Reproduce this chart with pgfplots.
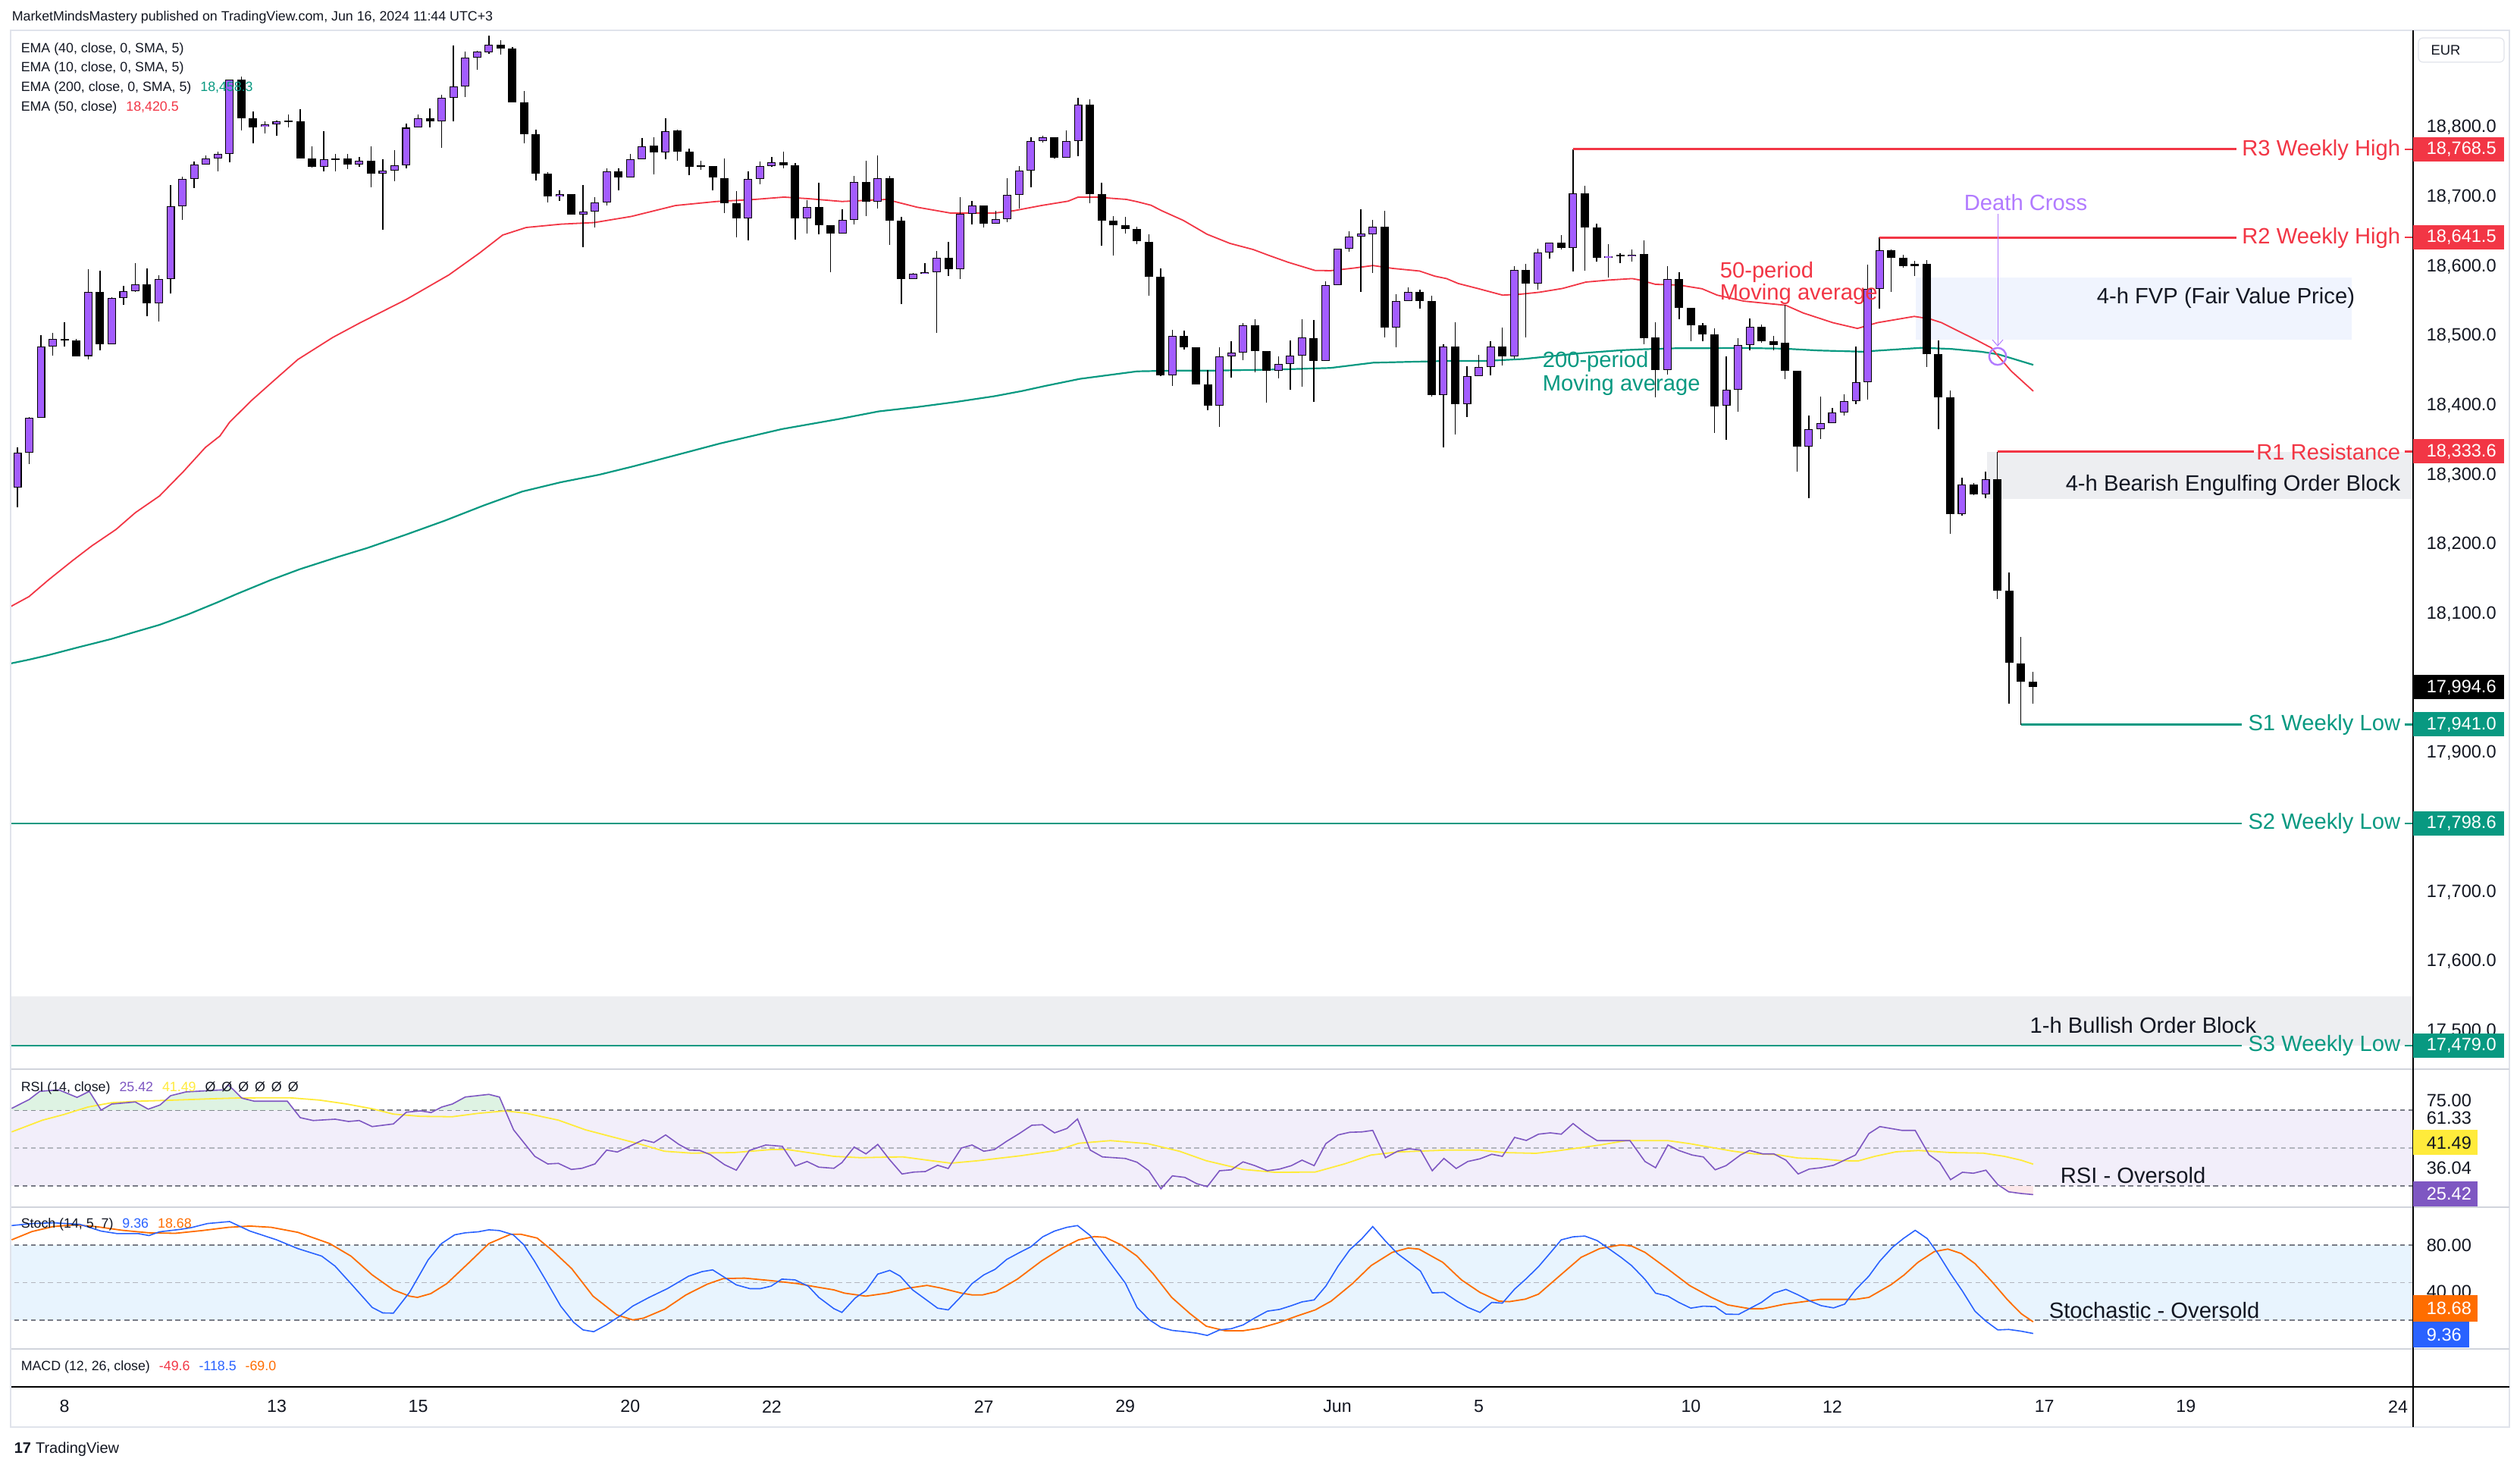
\documentclass[border=0pt]{standalone}
\usepackage{pgfplots}
\pgfplotsset{compat=1.18}
\usepackage{pgfplotstable}
\usepackage{fontspec}
\setmainfont{Liberation Sans}

\definecolor{tvred}{HTML}{F23645}
\definecolor{tvgreen}{HTML}{089981}
\definecolor{bull}{HTML}{A35DFF}
\definecolor{tvtext}{HTML}{131722}
\definecolor{rsiline}{HTML}{7E57C2}
\definecolor{rsima}{HTML}{FFEB3B}
\definecolor{kline}{HTML}{2962FF}
\definecolor{dline}{HTML}{FF6D00}
\definecolor{dcross}{HTML}{B27BFF}
\definecolor{rsiband}{HTML}{F2EEFA}
\definecolor{stband}{HTML}{E8F4FE}
\definecolor{obgray}{HTML}{EDEEF1}
\definecolor{fvp}{HTML}{F0F4FE}
\definecolor{dashgray}{HTML}{787B86}
\definecolor{midgray}{HTML}{B2B5BE}
\definecolor{frame}{HTML}{E0E3EB}
\definecolor{sepgray}{HTML}{D1D4DC}
\definecolor{obfill}{HTML}{DEF3E3}
\definecolor{osfill}{HTML}{FDE8EA}

\newcommand{\fl}{\fontsize{4.45}{5.4}\selectfont}
\newcommand{\fa}{\fontsize{7.3}{8.8}\selectfont}
\newcommand{\fp}{\fontsize{5.9}{7}\selectfont}
\newcommand{\fd}{\fontsize{5.8}{7}\selectfont}

% hourly DAX candles, bar index, open high low close
\pgfplotstableread{
i o h l c
0 18281.9 18339.4 18254.0 18332.0
1 18332.0 18383.0 18316.0 18382.2
2 18382.2 18501.0 18382.0 18484.5
3 18484.5 18504.0 18472.0 18496.0
4 18496.0 18519.5 18485.0 18494.0
5 18494.0 18496.0 18470.0 18471.0
6 18471.0 18596.4 18466.0 18563.3
7 18563.3 18593.5 18479.0 18488.0
8 18488.0 18556.0 18488.0 18554.5
9 18554.5 18572.0 18545.0 18564.3
10 18564.3 18605.0 18563.0 18574.0
11 18574.0 18597.0 18528.0 18547.3
12 18547.3 18587.7 18521.0 18581.3
13 18581.3 18717.0 18561.0 18686.0
14 18686.0 18729.0 18667.5 18725.5
15 18725.5 18751.0 18713.0 18746.0
16 18746.0 18759.5 18746.0 18755.6
17 18755.6 18765.0 18737.0 18761.5
18 18761.5 18868.6 18749.3 18868.6
19 18868.6 18873.5 18796.0 18812.6
20 18812.6 18822.8 18776.6 18800.4
21 18800.9 18808.2 18790.7 18804.3
22 18804.3 18810.0 18788.3 18808.2
23 18808.7 18819.0 18799.5 18808.7
24 18809.2 18826.2 18754.7 18754.7
25 18754.7 18772.7 18742.5 18743.5
26 18743.5 18794.6 18736.2 18753.7
27 18754.7 18761.5 18737.0 18754.7
28 18754.7 18761.5 18740.0 18746.0
29 18746.0 18757.0 18743.0 18751.7
30 18751.7 18772.7 18714.0 18733.7
31 18733.7 18753.7 18652.9 18737.6
32 18737.6 18767.8 18723.0 18745.0
33 18745.0 18805.3 18740.5 18799.5
34 18799.5 18819.0 18799.5 18812.6
35 18812.6 18827.7 18799.5 18808.2
36 18808.2 18847.2 18770.0 18842.3
37 18842.3 18917.8 18809.2 18858.9
38 18858.9 18909.0 18843.3 18900.7
39 18900.7 18910.5 18883.2 18908.5
40 18908.5 18932.4 18905.6 18919.2
41 18919.2 18925.0 18905.0 18913.9
42 18913.9 18915.3 18836.5 18836.5
43 18836.5 18852.0 18776.6 18790.7
44 18790.7 18797.0 18724.0 18733.7
45 18733.7 18736.0 18691.4 18701.0
46 18701.0 18709.9 18693.8 18703.5
47 18703.5 18703.5 18674.8 18674.8
48 18674.8 18716.7 18627.6 18678.7
49 18678.7 18699.2 18656.3 18692.4
50 18692.4 18741.0 18687.5 18736.2
51 18736.2 18741.0 18709.4 18728.4
52 18728.4 18761.5 18728.4 18753.7
53 18753.7 18784.9 18753.7 18773.2
54 18773.7 18786.3 18732.8 18764.4
55 18764.4 18813.1 18754.2 18795.1
56 18795.1 18797.0 18752.2 18765.4
57 18765.4 18769.3 18730.8 18743.5
58 18744.0 18751.7 18739.1 18744.0
59 18744.0 18744.0 18709.9 18727.4
60 18727.4 18755.2 18676.3 18690.4
61 18690.4 18708.4 18642.2 18669.0
62 18669.0 18736.2 18637.3 18725.5
63 18725.5 18750.8 18718.0 18744.0
64 18744.0 18757.6 18743.0 18750.3
65 18750.3 18765.0 18740.5 18745.4
66 18745.4 18748.3 18638.8 18669.0
67 18669.0 18695.8 18647.6 18685.0
68 18685.0 18720.0 18646.6 18659.2
69 18659.2 18659.2 18592.0 18647.1
70 18647.1 18682.1 18647.1 18666.5
71 18666.5 18730.3 18660.7 18721.0
72 18721.0 18751.7 18672.9 18693.3
73 18693.3 18759.5 18683.6 18727.4
74 18727.4 18729.8 18630.5 18666.0
75 18666.0 18671.0 18545.3 18582.3
76 18582.3 18591.0 18581.3 18589.6
77 18589.6 18605.2 18589.6 18592.0
78 18592.0 18622.7 18504.9 18612.0
79 18612.0 18634.9 18586.2 18596.4
80 18596.4 18700.1 18582.3 18675.3
81 18675.3 18693.8 18660.2 18688.0
82 18688.0 18688.0 18656.3 18661.7
83 18661.7 18679.7 18661.7 18668.5
84 18668.5 18726.4 18663.6 18702.6
85 18702.6 18744.0 18683.1 18738.1
86 18738.1 18786.3 18713.8 18780.0
87 18780.0 18787.8 18777.6 18785.3
88 18785.3 18785.3 18755.6 18756.6
89 18756.6 18795.6 18756.6 18780.0
90 18780.0 18842.3 18759.0 18833.1
91 18833.1 18839.9 18690.4 18703.5
92 18703.5 18720.0 18630.0 18665.6
93 18665.6 18671.9 18616.0 18659.7
94 18659.7 18671.4 18647.6 18654.4
95 18654.4 18657.0 18632.0 18635.9
96 18635.0 18645.9 18557.8 18585.4
97 18585.4 18596.6 18441.8 18443.0
98 18443.0 18508.6 18428.0 18500.6
99 18500.6 18508.1 18480.6 18483.9
100 18483.9 18483.9 18430.5 18430.5
101 18430.5 18451.4 18393.0 18400.0
102 18400.0 18483.5 18369.6 18471.0
103 18471.0 18492.3 18440.5 18475.6
104 18475.6 18519.0 18465.6 18514.8
105 18514.8 18524.0 18448.0 18478.5
106 18478.5 18478.5 18404.2 18450.1
107 18450.1 18471.0 18438.8 18459.3
108 18459.3 18494.0 18423.0 18471.4
109 18471.4 18524.0 18427.2 18497.3
110 18497.3 18522.7 18405.5 18464.3
111 18464.3 18578.3 18464.3 18573.2
112 18573.2 18625.0 18573.2 18625.0
113 18625.0 18650.5 18621.2 18642.5
114 18642.5 18681.8 18563.6 18646.7
115 18646.7 18667.2 18590.8 18656.7
116 18656.7 18679.7 18498.1 18512.3
117 18512.3 18559.9 18483.9 18549.9
118 18549.9 18570.3 18549.9 18563.6
119 18563.6 18567.0 18539.0 18550.3
120 18550.3 18557.8 18412.6 18414.6
121 18414.6 18487.7 18339.1 18484.3
122 18484.3 18519.8 18358.3 18402.1
123 18402.1 18456.8 18383.8 18441.8
124 18441.8 18472.7 18441.8 18455.1
125 18455.1 18491.9 18443.0 18484.8
126 18484.8 18511.9 18458.0 18471.0
127 18471.0 18600.4 18467.6 18594.5
128 18594.5 18603.7 18498.1 18575.8
129 18575.8 18625.4 18566.6 18620.4
130 18620.4 18633.8 18610.8 18633.8
131 18633.8 18645.0 18624.6 18626.7
132 18626.7 18768.5 18592.9 18704.7
133 18704.7 18716.0 18594.1 18656.3
134 18656.3 18660.9 18606.6 18612.5
135 18612.5 18631.7 18583.7 18615.0
136 18615.8 18619.2 18604.6 18615.8
137 18614.2 18624.2 18606.6 18617.1
138 18617.5 18637.1 18488.5 18497.3
139 18497.3 18519.8 18411.3 18451.4
140 18451.4 18600.4 18444.7 18582.4
141 18582.4 18591.2 18524.4 18540.7
142 18540.7 18540.7 18491.9 18515.6
143 18515.6 18519.0 18491.9 18502.3
144 18502.3 18510.6 18360.4 18399.2
145 18399.2 18471.0 18350.8 18422.2
146 18422.2 18496.9 18390.4 18486.4
147 18486.7 18524.6 18479.0 18513.5
148 18513.5 18516.2 18490.0 18492.9
149 18492.3 18499.5 18479.0 18487.3
150 18490.1 18545.2 18438.3 18449.5
151 18449.5 18449.5 18304.8 18341.0
152 18341.0 18385.5 18267.0 18366.0
153 18366.0 18413.3 18352.1 18374.4
154 18374.4 18396.6 18374.4 18389.4
155 18389.4 18416.1 18385.5 18406.6
156 18406.6 18484.5 18402.2 18433.9
157 18433.9 18602.5 18408.8 18567.4
158 18567.4 18641.5 18539.1 18623.6
159 18623.6 18624.7 18563.5 18612.5
160 18612.5 18616.4 18598.0 18600.8
161 18603.6 18608.0 18585.8 18600.8
162 18603.6 18609.2 18455.0 18473.4
163 18473.4 18494.0 18366.0 18411.6
164 18411.6 18421.6 18215.8 18243.6
165 18243.6 18296.5 18242.0 18286.4
166 18286.4 18288.0 18271.4 18272.5
167 18272.5 18304.8 18267.0 18293.7
168 18293.7 18333.6 18121.2 18134.0
169 18134.0 18160.0 17971.0 18029.4
170 18029.4 18067.2 17941.0 18002.6
171 18002.6 18016.5 17971.0 17994.6
}\candles

\pgfplotsset{
  panel/.style={scale only axis, width=792pt, anchor=south west,
    xmin=-0.5146, xmax=203.28, hide axis, clip=true},
  dash70/.style={dashgray, line width=0.3pt, dash pattern=on 1.6pt off 1.2pt},
  dash50/.style={midgray, line width=0.3pt, dash pattern=on 1.6pt off 1.2pt},
  bars only/.style={only marks, mark=*, mark size=0pt, mark options={draw=none, fill=none}},
}

\begin{document}
\begin{tikzpicture}
\useasboundingbox (0,0) rectangle (831pt,-484pt);
\fill[white] (0,0) rectangle (831pt,-484pt);

% ---------------- price panel ----------------
\begin{axis}[panel, at={(3.75pt,-352.5pt)}, height=342.5pt,
  ymin=17445.3, ymax=18939.5]
\fill[fvp] (axis cs:161.08,18494) rectangle (axis cs:198.07,18584);
\fill[obgray] (axis cs:167.13,18265) rectangle (axis cs:204,18333.6);
\fill[obgray] (axis cs:-1,17479) rectangle (axis cs:204,17549.6);

% EMA 200
\addplot[tvgreen, line width=0.55pt] coordinates {
(-0.58,18028.8) (0.98,18034.3) (2.62,18040.8) (5.08,18051.7) (7.96,18064) (10.01,18074.3)
(12.06,18084.4) (14.52,18099.7) (16.98,18116.8) (18.62,18128.8) (21.49,18148.8) (23.96,18164.4)
(27.24,18182.3) (29.7,18195) (32.98,18214.2) (36.26,18234.2) (39.55,18256) (42.83,18276.1)
(46.11,18289.5) (49.39,18300.4) (52.27,18312.4) (56.78,18332.5) (59.63,18345.3) (64.88,18366)
(68.17,18375.8) (69.8,18380.7) (73.08,18391.4) (76.36,18397.7) (79.64,18405) (82.92,18413.3)
(85.24,18420.7) (87.21,18428) (90.16,18438.2) (92.76,18444) (95.01,18449) (98.3,18450.1)
(101.58,18450.1) (104.86,18451) (108.14,18452.2) (111.42,18453.9) (115.02,18461.4) (117.98,18462.6)
(121.26,18463.9) (124.54,18463.9) (127.82,18466.8) (129.48,18469.7) (132.76,18475.2) (136.04,18479.3)
(137.67,18480.6) (140.95,18482.3) (142.94,18482.3) (146.48,18482.5) (149.84,18481.7) (152.8,18479)
(156.5,18477.3) (159.05,18480.1) (161.6,18482.9) (164.1,18481.2) (166.6,18477.3) (168.1,18473.4)
(169.2,18467.8) (171.05,18458.3)};

% EMA 50
\addplot[tvred, line width=0.45pt] coordinates {
(-0.58,18110.6) (0.98,18125) (2.62,18148.8) (4.68,18176.8) (6.30,18197.8) (8.36,18221.5)
(10.01,18245.8) (12.06,18269.8) (14.09,18305) (15.95,18339.6) (17.18,18356) (18.01,18376)
(19.85,18406.9) (21.9,18437.8) (23.80,18466.1) (26.76,18497.8) (29.04,18518.5) (32.98,18552.3)
(36.60,18587.6) (39.22,18619.3) (41.17,18645) (43.17,18655.9) (46.12,18660.7) (48.95,18663)
(52.09,18671.8) (55.84,18687.5) (59.31,18693.3) (62.59,18696.3) (65.04,18699.6) (67.16,18697.3)
(69.97,18693.3) (73.72,18696.3) (76.36,18685) (79.16,18676.7) (82.92,18676.7) (84.58,18680.1)
(86.88,18687.5) (89.16,18693.8) (90.0,18699.6) (91.48,18699.6) (94.10,18696.3) (95.01,18693)
(96.17,18688) (97.14,18679.7) (98.94,18666) (100.93,18646.3) (102.89,18633) (104.86,18624.2)
(106.18,18615.8) (107.82,18605.9) (110.11,18594.1) (111.42,18593.8) (113.39,18597.5) (115.02,18601.2)
(116.67,18597.1) (118.97,18593.3) (120.29,18585.8) (121.26,18582.4) (122.26,18575.3) (123.9,18568.2)
(126.02,18558.6) (127.5,18559.9) (129.15,18562.8) (131.1,18568.2) (133.09,18577.4) (135.05,18580.3)
(137.02,18582.4) (137.67,18580.3) (139.0,18574.1) (140.95,18573.2) (142.94,18567.8) (144.23,18558.6)
(146.48,18550) (150.05,18544) (151.52,18533) (154.04,18519) (156.13,18510.7) (157.83,18519)
(160.95,18528) (162.24,18524.6) (163.27,18519) (164.56,18508) (166.23,18494) (167.49,18482.8)
(168.03,18471.7) (169.17,18449.5) (171.05,18420.5)};

% wicks
\addplot[bars only, error bars/.cd, y dir=both, y explicit, error mark=none,
  error bar style={line width=0.35pt, draw=black}]
  table[x=i, y expr={(\thisrow{h}+\thisrow{l})/2}, y error expr={(\thisrow{h}-\thisrow{l})/2}] {\candles};
% bodies
\addplot[bars only, error bars/.cd, y dir=both, y explicit, error mark=none,
  error bar style={line width=2.75pt, draw=black}]
  table[x=i, y expr={(\thisrow{o}+\thisrow{c})/2}, y error expr={max(abs(\thisrow{c}-\thisrow{o})/2,1.1)}] {\candles};
\addplot[bars only, restrict expr to domain={\thisrow{c}-\thisrow{o}}{0.001:100000},
  error bars/.cd, y dir=both, y explicit, error mark=none,
  error bar style={line width=2.2pt, draw=bull}]
  table[x=i, y expr={(\thisrow{o}+\thisrow{c})/2}, y error expr={max(abs(\thisrow{c}-\thisrow{o})/2-1.1,0.3)}] {\candles};

% weekly levels
\addplot[tvred, line width=0.75pt] coordinates {(132,18768.5) (188.29,18768.5)};
\addplot[tvred, line width=0.75pt] coordinates {(158,18641.5) (188.29,18641.5)};
\addplot[tvred, line width=0.75pt] coordinates {(168,18333.6) (189.77,18333.6)};
\addplot[tvgreen, line width=0.6pt] coordinates {(170,17941) (188.74,17941)};
\addplot[tvgreen, line width=0.6pt] coordinates {(-1,17798.6) (188.74,17798.6)};
\addplot[tvgreen, line width=0.6pt] coordinates {(-1,17479) (188.74,17479)};
\addplot[tvred, line width=0.6pt] coordinates {(202.6,18768.5) (204,18768.5)};
\addplot[tvred, line width=0.6pt] coordinates {(202.6,18641.5) (204,18641.5)};
\addplot[tvred, line width=0.6pt] coordinates {(202.6,18333.6) (204,18333.6)};
\addplot[tvgreen, line width=0.6pt] coordinates {(202.6,17941) (204,17941)};
\addplot[tvgreen, line width=0.6pt] coordinates {(202.6,17798.6) (204,17798.6)};
\addplot[tvgreen, line width=0.6pt] coordinates {(202.6,17479) (204,17479)};

% death cross
\addplot[only marks, mark=o, mark size=2.8pt, mark options={dcross, line width=0.6pt}]
  coordinates {(168.03,18470.5)};
\end{axis}

% ---------------- RSI panel ----------------
\begin{axis}[panel, at={(3.75pt,-398pt)}, height=45.5pt, ymin=18.8, ymax=91.6]
\fill[rsiband] (axis cs:-1,30) rectangle (axis cs:204,70);
\addplot[dash70] coordinates {(-1,70) (204,70)};
\addplot[dash50] coordinates {(-1,50) (204,50)};
\addplot[dash70] coordinates {(-1,30) (204,30)};
% overbought / oversold areas
\addplot[fill=obfill, draw=none] coordinates {(-0.49,70) (-0.49,70.9) (1.0,75.6) (1.9,79.9) (3.5,80.7)
 (5.06,76.7) (6.1,79.9) (7.1,70.0) (8.0,73.2) (10.0,74.3) (11.1,70.5) (12.1,72.7) (13.0,77.6) (14.3,79.6)
 (17.5,80.7) (17.9,83.3) (19.05,76.3) (20.1,74.7) (22.9,74.7) (23.49,70)} -- cycle;
\addplot[fill=obfill, draw=none] coordinates {(35.5,70) (36.0,71.6) (36.9,73.2) (38.0,76.9) (40.0,78.3)
 (40.9,76.9) (41.38,70)} -- cycle;
\addplot[fill=osfill, draw=none] coordinates {(168.21,30) (168.96,26.9) (170.02,26.0) (171.04,25.42)
 (171.04,30)} -- cycle;
\addplot[rsima, line width=0.45pt] coordinates {
(-0.49,58.5) (2.13,64.7) (3.9,67.6) (5.97,71.6) (8.0,73.9) (10.25,74.7) (12.96,75.2) (16.57,76.0)
(18.8,76.4) (21.08,76.5) (23.1,76.5) (25.6,75.3) (27.85,73.3) (30.1,70.7) (31.9,67.9) (34.2,66.7)
(36.9,66.5) (39.1,68.3) (41.4,69.6) (43.2,68.3) (45.9,64.7) (48.2,59.6) (50.4,56.0) (52.7,52.3)
(54.9,48.3) (57.2,47.3) (60.8,47.6) (64.0,49.2) (65.3,49.2) (67.1,47.6) (69.28,45.6) (71.54,44.9)
(73.8,45.2) (75.15,45.3) (77.2,43.6) (79.2,42.0) (81.5,43.3) (85.1,45.9) (88.2,48.7) (90.04,52.5)
(92.75,53.9) (95.9,52.3) (98.6,48.3) (100.87,43.3) (104.0,38.7) (106.7,37.2) (110.1,37.3) (112.6,41.6)
(114.86,46.3) (117.1,47.9) (121.2,48.9) (124.1,48.9) (126.1,47.6) (128.85,47.2) (130.65,48.5) (134.3,51.6)
(136.5,53.9) (140.05,53.9) (141.9,52.3) (143.74,50.3) (145.6,48.3) (147.4,46.9) (149.3,46.5) (151.1,44.7)
(152.96,44.3) (154.8,43.3) (156.2,43.2) (157.6,45.6) (159.4,48.0) (161.3,48.7) (164.0,47.6) (166.8,47.3)
(168.6,45.6) (170.0,43.6) (171.04,41.49)};
\addplot[rsiline, line width=0.4pt] coordinates {
(-0.49,70.9) (1.0,75.6) (1.9,79.9) (3.5,80.7) (5.06,76.7) (6.1,79.9) (7.1,70.0) (8.0,73.2)
(10.0,74.3) (11.1,70.5) (12.1,72.7) (13.0,77.6) (14.3,79.6) (17.5,80.7) (17.9,83.3) (19.05,76.3)
(20.1,74.7) (22.9,74.7) (24.0,66.0) (25.1,64.5) (26.95,65.2) (28.1,64.0) (29.0,64.5) (30.1,61.3)
(31.9,62.7) (33.0,68.9) (34.2,69.6) (35.1,68.7) (36.0,71.6) (36.9,73.2) (38.0,76.9) (40.0,78.3)
(40.9,76.9) (42.1,59.6) (43.9,45.6) (45.0,41.6) (45.9,41.9) (47.0,38.7) (47.9,39.3) (49.0,41.6)
(50.0,48.9) (50.9,47.9) (53.1,54.3) (54.0,52.9) (55.0,56.9) (56.1,52.0) (57.0,48.9) (57.9,48.7)
(58.8,46.5) (60.0,41.2) (61.0,38.3) (62.1,48.7) (63.5,51.6) (64.9,50.9) (66.0,40.5) (67.0,42.9)
(68.0,39.9) (69.28,39.3) (69.96,42.3) (71.0,50.5) (72.0,46.9) (73.0,51.9) (74.0,43.9) (75.06,36.3)
(76.05,37.3) (77.04,37.6) (78.08,40.9) (78.98,39.2) (80.1,50.0) (81.0,51.6) (82.0,48.3) (82.9,49.2)
(83.95,53.6) (85.0,57.6) (86.07,62.0) (86.97,62.3) (88.0,58.0) (89.05,60.3) (89.95,65.3) (91.03,48.9)
(92.07,45.3) (94.0,44.5) (95.0,42.5) (96.0,38.0) (97.03,28.5) (98.0,35.3) (99.06,34.5) (100.06,31.2)
(100.96,29.6) (102.0,38.0) (103.0,38.5) (104.0,42.7) (105.0,40.7) (106.06,38.0) (107.1,38.9) (108.1,40.7)
(109.0,43.6) (110.03,40.7) (111.02,52.3) (112.06,56.9) (113.05,58.3) (114.09,58.5) (115.0,59.3) (116.08,44.9)
(117.1,48.3) (118.1,49.6) (119.05,48.9) (120.05,38.0) (121.04,44.5) (122.08,39.2) (123.07,42.9) (124.1,44.3)
(125.1,46.7) (126.0,45.6) (127.04,55.6) (128.03,54.0) (129.07,57.3) (130.07,58.0) (131.0,57.3) (132.0,62.9)
(133.0,58.0) (134.04,53.9) (136.83,53.9) (138.1,42.9) (139.0,39.6) (140.05,51.6) (140.97,48.7) (142.1,46.3)
(143.05,45.3) (144.06,38.5) (144.98,40.7) (146.2,46.3) (146.97,48.7) (148.1,46.9) (149.04,46.9) (150.06,43.6)
(151.1,36.3) (152.04,38.9) (153.05,39.6) (154.1,40.9) (155.96,46.3) (157.1,57.6) (158.03,61.3) (159.9,59.3)
(161.03,59.3) (162.2,46.5) (163.1,42.5) (164.03,33.3) (165.04,37.2) (165.97,36.7) (167.03,38.3) (168.04,30.7)
(168.96,26.9) (170.02,26.0) (171.04,25.42)};
\end{axis}

% ---------------- Stochastic panel ----------------
\begin{axis}[panel, at={(3.75pt,-444.75pt)}, height=46.75pt, ymin=-3.0, ymax=110.3]
\fill[stband] (axis cs:-1,20) rectangle (axis cs:204,80);
\addplot[dash70] coordinates {(-1,80) (204,80)};
\addplot[dash50] coordinates {(-1,50) (204,50)};
\addplot[dash70] coordinates {(-1,20) (204,20)};
\addplot[dline, line width=0.45pt] coordinates {
(-0.49,84.2) (1.23,90.8) (3.03,94.8) (4.84,96.2) (6.64,94.8) (8.9,91.8) (11.16,89.8) (13.4,89.4)
(15.67,91.6) (17.92,94.2) (19.73,95.2) (21.53,94.2) (23.79,90.2) (26.5,81.2) (28.3,71.2) (30.1,56.2)
(31.9,44.2) (33.27,39.2) (33.94,38.2) (35.07,41.2) (36.43,49.2) (38.23,65.2) (40.0,81.2) (41.84,88.6)
(42.74,88.6) (44.1,85.6) (45.45,75.2) (47.03,61.2) (48.84,39.2) (50.87,24.2) (52.22,20.2) (53.12,21.6)
(54.93,28.8) (56.73,40.2) (58.54,48.8) (59.89,53.2) (61.7,53.6) (63.95,51.6) (66.2,49.2) (68.0,46.2)
(69.28,44.2) (70.18,41.6) (71.99,39.2) (73.79,41.6) (75.6,45.6) (77.18,47.8) (78.3,45.8) (80.1,41.6)
(81.0,40.2) (81.9,40.2) (83.04,42.8) (84.85,52.8) (86.88,67.2) (88.68,77.8) (90.04,84.2) (91.39,86.8)
(92.3,86.2) (93.65,80.2) (95.0,71.2) (96.36,57.2) (97.94,38.2) (99.5,25.2) (100.87,15.2) (102.45,11.6)
(104.03,11.6) (105.4,13.6) (106.96,17.8) (108.54,23.2) (110.12,28.2) (111.47,35.2) (113.28,49.2) (114.86,63.6)
(116.66,74.2) (118.0,77.6) (118.92,76.8) (120.95,66.2) (122.53,52.2) (124.1,42.2) (125.7,35.2) (126.59,34.8)
(127.95,36.8) (129.07,40.8) (130.88,55.6) (132.68,70.2) (134.26,77.2) (136.07,80.2) (136.97,79.2) (138.1,74.2)
(140.05,60.8) (141.9,47.6) (143.74,38.2) (145.12,32.2) (146.97,29.2) (148.12,29.2) (149.96,32.8) (151.58,34.8)
(152.96,36.6) (155.96,36.6) (157.1,38.2) (158.96,48.2) (160.1,56.2) (161.26,66.2) (162.65,74.8) (163.8,76.8)
(164.95,73.2) (166.1,65.2) (167.5,51.2) (168.87,36.2) (170.02,25.2) (171.04,18.68)};
\addplot[kline, line width=0.4pt] coordinates {
(-0.49,95.6) (1.23,97.2) (3.03,97.8) (5.29,96.6) (7.09,91.2) (8.45,89.2) (10.25,89.2) (11.16,87.6)
(12.06,90.6) (13.86,92.6) (14.77,94.0) (16.12,97.2) (18.0,98.8) (19.73,91.2) (21.99,84.2) (23.79,77.2)
(25.82,71.2) (26.95,63.2) (28.3,49.2) (30.1,30.2) (31.0,25.8) (31.9,25.6) (33.27,42.2) (34.85,68.2)
(35.98,81.2) (37.1,88.2) (38.0,89.8) (39.1,90.6) (40.0,92.2) (40.9,91.6) (42.07,88.2) (42.97,80.2)
(43.87,67.2) (45.0,49.2) (46.1,31.2) (47.2,18.2) (48.0,12.2) (48.9,10.8) (49.96,16.2) (51.1,23.2)
(52.2,31.2) (53.6,38.2) (55.15,45.2) (56.96,55.2) (58.1,58.8) (58.99,60.2) (60.1,53.6) (61.0,48.2)
(62.15,45.2) (63.05,45.2) (63.95,47.2) (64.86,52.8) (65.98,52.2) (67.1,47.2) (68.0,38.2) (69.28,29.2)
(69.96,26.2) (71.1,37.8) (72.0,43.6) (73.0,56.8) (74.02,59.8) (74.9,55.2) (75.96,44.2) (77.04,36.8)
(78.08,29.6) (78.98,28.2) (80.1,39.2) (81.0,49.2) (82.0,56.2) (82.95,60.6) (83.95,68.6) (84.98,73.8)
(85.98,78.6) (87.0,86.6) (88.0,91.2) (89.05,94.2) (89.95,95.6) (91.03,87.6) (92.07,74.2) (92.97,62.8)
(94.01,49.6) (95.0,30.2) (96.0,20.6) (97.03,14.2) (98.0,11.8) (99.06,10.8) (100.06,9.6) (100.96,7.8)
(102.0,12.2) (103.0,13.2) (104.0,16.2) (105.0,21.8) (106.06,27.2) (107.1,28.6) (108.1,31.6) (109.0,34.6)
(110.03,36.2) (111.02,47.2) (112.06,63.2) (113.05,76.2) (114.09,85.2) (115.0,94.8) (116.08,83.2) (117.1,73.2)
(118.1,66.2) (119.05,59.2) (120.05,41.8) (121.04,42.2) (122.08,35.6) (123.07,30.2) (124.1,26.2) (125.1,34.2)
(126.0,33.6) (127.04,44.8) (128.03,53.2) (129.07,62.8) (130.07,73.8) (131.0,84.2) (132.0,86.6) (133.0,87.2)
(134.04,83.6) (135.08,76.8) (136.07,70.2) (136.97,63.6) (138.1,52.6) (139.0,41.6) (140.05,39.2) (140.97,34.2)
(141.99,29.6) (143.05,31.2) (144.06,30.8) (144.98,24.8) (146.04,24.6) (146.97,29.2) (147.98,34.2) (149.04,41.6)
(150.06,44.6) (151.1,40.2) (152.13,35.2) (153.05,31.6) (154.1,29.8) (155.04,32.8) (155.96,44.2) (157.1,55.2)
(158.03,67.2) (159.1,78.2) (160.02,85.2) (161.03,91.8) (162.05,85.2) (162.97,73.2) (164.03,57.2) (165.04,43.2)
(166.1,27.2) (167.03,19.2) (168.04,12.2) (168.96,12.6) (170.02,11.2) (171.04,9.36)};
\end{axis}

% ---------------- frame, scales and notes (1 unit = 1 screenshot pixel) ----------------
\begin{scope}[x=0.25pt, y=-0.25pt]
\draw[frame, line width=0.4pt] (14,40) rectangle (3310,1882);
\draw[sepgray, line width=0.45pt] (15,1410) -- (3310,1410);
\draw[sepgray, line width=0.45pt] (15,1592) -- (3310,1592);
\draw[sepgray, line width=0.45pt] (15,1779) -- (3310,1779);
\draw[black, line width=0.5pt] (15,1829) -- (3310,1829);
\draw[black, line width=0.35pt] (3183,40) -- (3183,1882);

% header and legends
\node[anchor=west, inner sep=0, text=tvtext, font=\fl] at (15,23) {MarketMindsMastery published on TradingView.com, Jun 16, 2024 11:44 UTC+3};
\node[anchor=west, inner sep=0, text=tvtext, font=\fl] at (27,65) {EMA (40, close, 0, SMA, 5)};
\node[anchor=west, inner sep=0, text=tvtext, font=\fl] at (27,90) {EMA (10, close, 0, SMA, 5)};
\node[anchor=west, inner sep=0, text=tvtext, font=\fl] at (27,116) {EMA (200, close, 0, SMA, 5)\hspace{3pt}\textcolor{tvgreen}{18,458.3}};
\node[anchor=west, inner sep=0, text=tvtext, font=\fl] at (27,142) {EMA (50, close)\hspace{3pt}\textcolor{tvred}{18,420.5}};
\node[anchor=west, inner sep=0, text=tvtext, font=\fl] at (27,1435) {RSI (14, close)\hspace{3pt}\textcolor{rsiline}{25.42}\hspace{3pt}\textcolor{rsima}{41.49}\hspace{3pt}Ø\hspace{2pt}Ø\hspace{2pt}Ø\hspace{2pt}Ø\hspace{2pt}Ø\hspace{2pt}Ø};
\node[anchor=west, inner sep=0, text=tvtext, font=\fl] at (27,1615) {Stoch (14, 5, 7)\hspace{3pt}\textcolor{kline}{9.36}\hspace{3pt}\textcolor{dline}{18.68}};
\node[anchor=west, inner sep=0, text=tvtext, font=\fl] at (27,1803) {MACD (12, 26, close)\hspace{3pt}\textcolor{tvred}{-49.6}\hspace{3pt}\textcolor{kline}{-118.5}\hspace{3pt}\textcolor{dline}{-69.0}};

% annotations
\node[anchor=east, inner sep=0, text=tvred, font=\fa] at (3167,198) {R3 Weekly High};
\node[anchor=east, inner sep=0, text=tvred, font=\fa] at (3167,314) {R2 Weekly High};
\node[anchor=east, inner sep=0, text=tvred, font=\fa] at (3167,596) {R1 Resistance};
\node[anchor=east, inner sep=0, text=tvgreen, font=\fa] at (3167,956) {S1 Weekly Low};
\node[anchor=east, inner sep=0, text=tvgreen, font=\fa] at (3167,1086) {S2 Weekly Low};
\node[anchor=east, inner sep=0, text=tvgreen, font=\fa] at (3167,1379) {S3 Weekly Low};
\node[anchor=west, inner sep=0, text=tvtext, font=\fa] at (2765,393) {4-h FVP (Fair Value Price)};
\node[anchor=east, inner sep=0, text=tvtext, font=\fa] at (3167,640) {4-h Bearish Engulfing Order Block};
\node[anchor=east, inner sep=0, text=tvtext, font=\fa] at (2977,1352) {1-h Bullish Order Block};
\node[anchor=west, inner sep=0, text=tvgreen, font=\fa] at (2034,477) {200-period};
\node[anchor=west, inner sep=0, text=tvgreen, font=\fa] at (2034,508) {Moving average};
\node[anchor=west, inner sep=0, text=tvred, font=\fa] at (2268,359) {50-period};
\node[anchor=west, inner sep=0, text=tvred, font=\fa] at (2268,388) {Moving average};
\node[anchor=center, inner sep=0, text=dcross, font=\fa] at (2672,267) {Death Cross};
\draw[dcross, line width=0.25pt] (2635,282) -- (2635,456);
\draw[dcross, line width=0.25pt] (2628,448) -- (2635,456) -- (2642,448);
\node[anchor=west, inner sep=0, text=tvtext, font=\fa] at (2717,1550) {RSI - Oversold};
\node[anchor=west, inner sep=0, text=tvtext, font=\fa] at (2702,1728) {Stochastic - Oversold};

% price scale
\draw[frame, line width=0.3pt, rounded corners=1.5pt] (3190,50) rectangle (3303,82);
\node[anchor=center, inner sep=0, text=tvtext, font=\fontsize{4.6}{5.5}\selectfont] at (3226,66) {EUR};
\foreach \yy/\lab in {167.9/18{,}800.0, 259.6/18{,}700.0, 351.3/18{,}600.0, 443/18{,}500.0,
  534.7/18{,}400.0, 626.4/18{,}300.0, 718.1/18{,}200.0, 809.7/18{,}100.0, 993.1/17{,}900.0,
  1176.5/17{,}700.0, 1268.2/17{,}600.0, 1359.9/17{,}500.0}
  \node[anchor=west, inner sep=0, text=tvtext, font=\fp] at (3200,\yy) {\lab};
\foreach \yy/\lab/\col in {196.8/18{,}768.5/tvred, 313.2/18{,}641.5/tvred, 595.5/18{,}333.6/tvred,
  906.4/17{,}994.6/black, 955.5/17{,}941.0/tvgreen, 1086.1/17{,}798.6/tvgreen, 1379.1/17{,}479.0/tvgreen}
  {\fill[\col] (3183,\yy-16) rectangle (3303,\yy+16);
   \node[anchor=west, inner sep=0, text=white, font=\fp] at (3200,\yy) {\lab};}

% oscillator scales
\node[anchor=west, inner sep=0, text=tvtext, font=\fp] at (3200,1451) {75.00};
\node[anchor=west, inner sep=0, text=tvtext, font=\fp] at (3200,1474) {61.33};
\fill[rsima] (3183,1490) rectangle (3268,1523);
\node[anchor=west, inner sep=0, text=tvtext, font=\fp] at (3200,1507) {41.49};
\node[anchor=west, inner sep=0, text=tvtext, font=\fp] at (3200,1540) {36.04};
\fill[rsiline] (3183,1558) rectangle (3268,1591);
\node[anchor=west, inner sep=0, text=white, font=\fp] at (3200,1574) {25.42};
\node[anchor=west, inner sep=0, text=tvtext, font=\fp] at (3200,1642) {80.00};
\node[anchor=west, inner sep=0, text=tvtext, font=\fp] at (3200,1703) {40.00};
\fill[dline] (3183,1708) rectangle (3268,1743);
\node[anchor=west, inner sep=0, text=white, font=\fp] at (3200,1725) {18.68};
\fill[kline] (3183,1743) rectangle (3257,1777);
\node[anchor=west, inner sep=0, text=white, font=\fp] at (3200,1760) {9.36};

% time scale
\foreach \xx/\lab in {85.2/8, 365/13, 551.5/15, 831.3/20, 1017.9/22, 1297.7/27, 1484.2/29,
  1764/Jun, 1950.6/5, 2230.4/10, 2416.9/12, 2696.7/17, 2883.3/19, 3163.1/24}
  \node[anchor=center, inner sep=0, text=tvtext, font=\fd] at (\xx,1855) {\lab};

% footer
\node[anchor=west, inner sep=0, text=tvtext, font=\fontsize{5}{6}\selectfont] at (18,1911) {\textbf{17}\hspace{1.5pt}TradingView};
\end{scope}
\end{tikzpicture}
\end{document}
